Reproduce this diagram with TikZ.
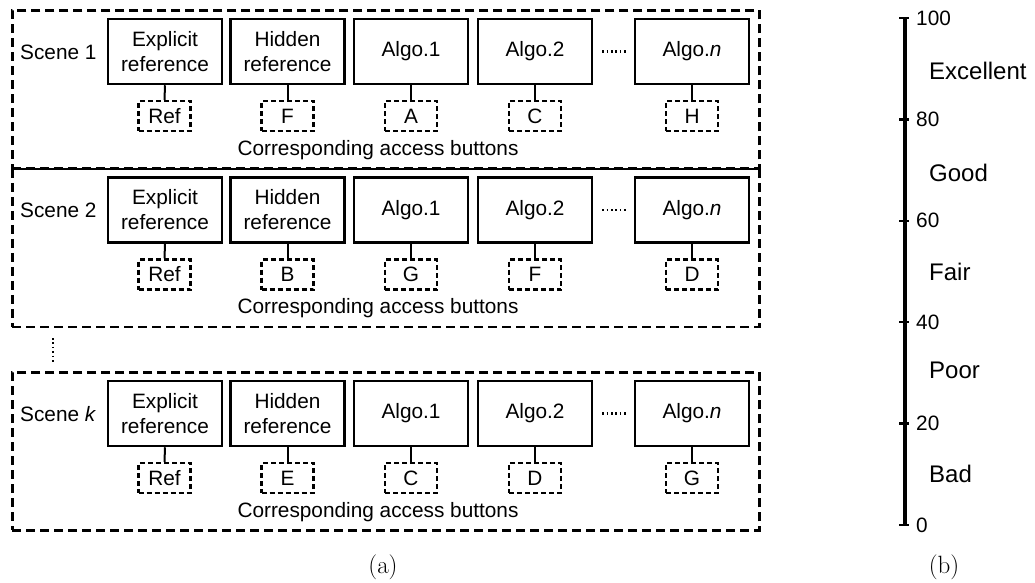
\documentclass[tikz,border=0pt]{standalone}
\usepackage{fontspec}
\setsansfont{Liberation Sans}

% One scene: frame, label, five stimulus boxes with their access buttons
% #1 prefix, #2 top of frame, #3 scene label, #4..#8 button letters
\newcommand\scenegroup[8]{%
  \node[frame] (#1f) at (11,#2) {};
  \node[anchor=west] (#1lab) at (20,#2+43) {#3};
  \node[algbox] (#1e) at (165,#2+42.5) {Explicit\\reference};
  \node[algbox] (#1h) at (287.5,#2+42.5) {Hidden\\reference};
  \node[algbox] (#1a) at (411,#2+42.5) {Algo.1};
  \node[algbox] (#1b) at (535,#2+42.5) {Algo.2};
  \node[algbox] (#1n) at (692,#2+42.5) {Algo.\textit{n}};
  \node[btn] (#1eb) at (164.5,#2+107) {#4};
  \node[btn] (#1hb) at (287.5,#2+107) {#5};
  \node[btn] (#1ab) at (411,#2+107) {#6};
  \node[btn] (#1bb) at (535,#2+107) {#7};
  \node[btn] (#1nb) at (692,#2+107) {#8};
  \foreach \k in {e,h,a,b,n} {\draw[link] (#1\k.south) -- (#1\k b.north);}
  \draw[ellip] ([xshift=9pt]#1b.east) -- ([xshift=-8pt]#1n.west);
  \node (#1cap) at (378,#2+141) {Corresponding access buttons};
}

\begin{document}
\begin{tikzpicture}[x=1pt,y=-1pt,
  every node/.style={font=\sffamily\fontsize{20.8}{25}\selectfont, inner sep=0pt},
  frame/.style={draw, line width=2.5pt, dash pattern=on 9pt off 5pt,
    minimum width=747pt, minimum height=158pt, anchor=north west},
  algbox/.style={draw, line width=2.5pt, minimum width=114pt, minimum height=65pt, align=center},
  btn/.style={draw, line width=2.2pt, dash pattern=on 5pt off 3pt,
    minimum width=52pt, minimum height=30pt},
  link/.style={line width=2pt},
  ellip/.style={line width=2.4pt, dash pattern=on 1.6pt off 2.8pt},
  axisline/.style={line width=3.5pt},
  tick/.style={line width=2.4pt},
  grade/.style={anchor=west, font=\sffamily\fontsize{24}{28}\selectfont},
  caption/.style={font=\rmfamily\fontsize{25}{29}\selectfont}]
\useasboundingbox (0,0) rectangle (1035,582);

% (a) listening-test layout
\scenegroup{s1}{9}{Scene 1}{Ref}{F}{A}{C}{H}
\scenegroup{s2}{167.5}{Scene 2}{Ref}{B}{G}{F}{D}
\scenegroup{sk}{371}{Scene \textit{k}}{Ref}{E}{C}{D}{G}
\draw[ellip] ([shift={(42,10)}]s2f.south west) -- ([shift={(42,-9)}]skf.north west);
\node[caption] (capa) at (383,567) {(a)};

% (b) grading scale
\coordinate (top) at (905,18);
\coordinate (bot) at (905,525);
\draw[axisline] (top) -- (bot);
\foreach \v [count=\i from 0] in {100,80,60,40,20,0} {
  \draw[tick] (899,18+101.4*\i) -- (909,18+101.4*\i);
  \node[anchor=west] (n\v) at (916,18+101.4*\i) {\v};
}
\node[grade] (g5) at (929,71) {Excellent};
\node[grade] (g4) at (929,173) {Good};
\node[grade] (g3) at (929,272) {Fair};
\node[grade] (g2) at (929,370) {Poor};
\node[grade] (g1) at (929,474) {Bad};
\node[caption] (capb) at (944,567) {(b)};
\end{tikzpicture}
\end{document}
